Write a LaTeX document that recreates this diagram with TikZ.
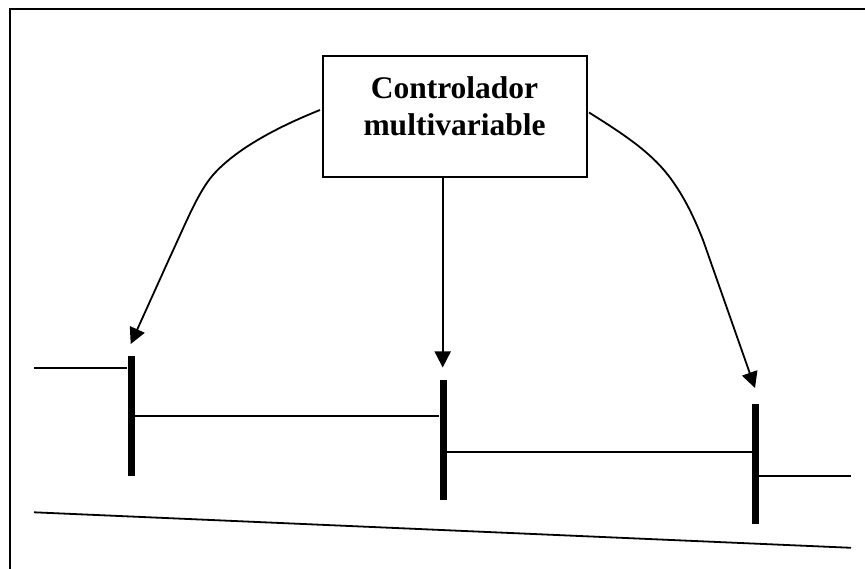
\documentclass[tikz,border=0pt]{standalone}
\usepackage{fontspec}
\setmainfont{Liberation Serif}
\usetikzlibrary{arrows.meta}
\tikzset{
  x=1pt,y=-1pt,
  thin line/.style={line width=1.8pt,black},
  flow/.style={thin line,-{Triangle[length=16pt,width=16pt]}},
  barnode/.style={fill=black,inner sep=0pt,minimum width=7pt,minimum height=120pt},
  pipe/.style={thin line},
}
\begin{document}
\begin{tikzpicture}
\useasboundingbox (0,0) rectangle (865,569);
\draw[thin line] (10.3,569) -- (10.3,8.7) -- (865,8.7);
\node[draw=black,line width=1.8pt,minimum width=264pt,minimum height=120.5pt,inner sep=0pt] (box) at (454.7,116.4) {};
\node[align=center,inner sep=0pt,font=\fontsize{31.5}{37}\selectfont\bfseries] (lbl) at (454.5,106.5) {Controlador\\multivariable};
\node[barnode] (b1) at (131,415.7) {};
\node[barnode] (b2) at (443,439.9) {};
\node[barnode] (b3) at (755.2,463.9) {};
\coordinate (a1) at (34,368.3);
\coordinate (a2) at (851,475.7);
\coordinate (g1) at (34,512.3);
\coordinate (g2) at (851,547.8);
\coordinate (t1) at (130.7,344);
\coordinate (t2) at (442.7,367.5);
\coordinate (t3) at (755,388);
\draw[pipe] (a1) -- (a1-|b1.west);
\draw[pipe] (b1.east|-0,416.3) -- (b2.west|-0,416.3);
\draw[pipe] (b2.east|-0,451.7) -- (b3.west|-0,451.7);
\draw[pipe] (b3.east|-a2) -- (a2);
\draw[pipe] (g1) -- (g2);
\draw[flow] (box.south-|t2) -- (t2);
\draw[flow] (320,110) .. controls (275,128) and (235,150) .. (213,175) .. controls (198,192) and (185,225) .. (170,257) -- (t1);
\draw[flow] (589,112.5) .. controls (625,135) and (650,152) .. (668,175) .. controls (685,197) and (695,220) .. (703,240) -- (t3);
\end{tikzpicture}
\end{document}
